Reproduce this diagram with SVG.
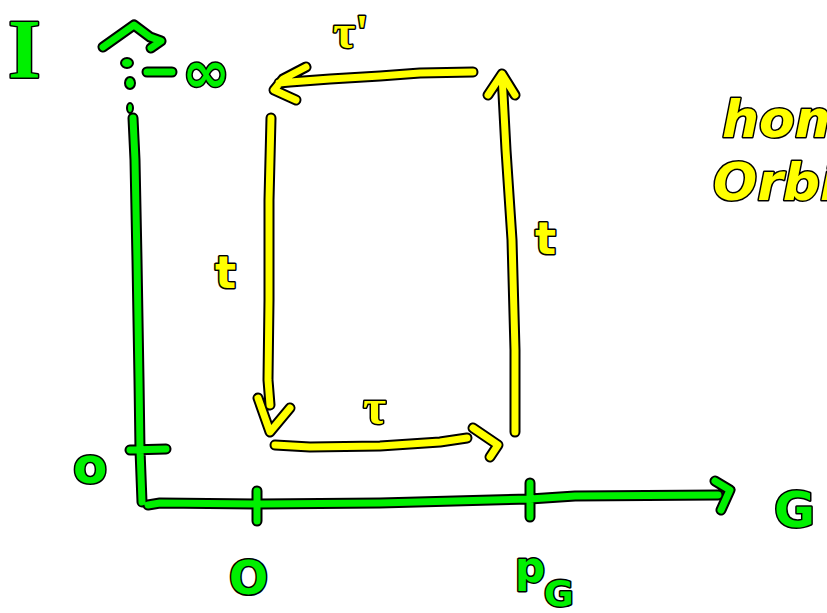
<svg xmlns="http://www.w3.org/2000/svg" xmlns:xlink="http://www.w3.org/1999/xlink" width="827" height="613" viewBox="0 0 827 613">
<style>
.o{fill:none;stroke:#000;stroke-width:11;stroke-linecap:round;stroke-linejoin:round}
.g{fill:none;stroke:#00f000;stroke-width:7;stroke-linecap:round;stroke-linejoin:round}
.y{fill:none;stroke:#ffff00;stroke-width:7;stroke-linecap:round;stroke-linejoin:round}
.tg{fill:#00f000;stroke:#000;stroke-width:3;stroke-linejoin:round;paint-order:stroke fill;font-family:"DejaVu Sans",sans-serif;font-weight:bold}
.ty{fill:#ffff00;stroke:#000;stroke-width:3;stroke-linejoin:round;paint-order:stroke fill;font-family:"DejaVu Sans",sans-serif;font-weight:bold}
.serif{font-family:"Liberation Serif",serif}
</style>
<defs>
<path id="gax" d="M133,118 L135,160 L137,260 L139,380 L140,450 L142,502 M148,505 L160,503 L260,504 L380,503 L530,499 L575,496 L718,495 M715,481 L730,490 L721,510 M130,450 L166,449 M257,491 L257,521 M530,483 L530,517 M103,47 L134,25 L150,37 L161,41 L151,48 M147,72 L172,72"/>
<path id="ytop" d="M473,72 L420,73 L380,76 L330,79 L290,82 L279,83 M306,67 L283,79 L274,90 L296,100"/>
<path id="yleft" d="M271,118 L269,200 L269,300 L268,380 L270,405 M258,398 L270,432 L290,408"/>
<path id="ybot" d="M275,445 L310,447 L380,446 L440,442 L467,438 M473,428 L498,445 L490,457"/>
<path id="yright" d="M515,432 L515,350 L512,240 L506,150 L502,75 M488,95 L502,74 L515,95"/>
</defs>
<g id="connectors">
<use xlink:href="#gax" class="o"/><use xlink:href="#gax" class="g"/>
<use xlink:href="#ytop" class="o"/><use xlink:href="#ytop" class="y"/>
<use xlink:href="#yleft" class="o"/><use xlink:href="#yleft" class="y"/>
<use xlink:href="#ybot" class="o"/><use xlink:href="#ybot" class="y"/>
<use xlink:href="#yright" class="o"/><use xlink:href="#yright" class="y"/>
<g>
<ellipse cx="127" cy="63" rx="6" ry="5" fill="#00f000" stroke="#000" stroke-width="2"/>
<ellipse cx="130" cy="83" rx="5" ry="6" fill="#00f000" stroke="#000" stroke-width="2"/>
<ellipse cx="130" cy="108" rx="3" ry="5" fill="#00f000" stroke="#000" stroke-width="2"/>
</g>
</g>
<g id="labels">
<text class="tg serif" x="8" y="78" font-size="84">I</text>
<text class="tg" x="182" y="92" font-size="58">∞</text>
<text class="ty serif" x="333" y="48" font-size="48">τ'</text>
<text class="ty" x="215" y="288" font-size="44">t</text>
<text class="ty" x="535" y="254" font-size="44">t</text>
<text class="ty serif" x="363" y="424" font-size="50">τ</text>
<text class="tg" x="73" y="483" font-size="50">o</text>
<text class="tg" x="229" y="594" font-size="46">O</text>
<text class="tg" x="515" y="582" font-size="42">p</text>
<text class="tg" x="544" y="606" font-size="36">G</text>
<text class="tg" x="774" y="527" font-size="50">G</text>
<text class="ty" x="722" y="137" font-size="52" font-style="italic">hom</text>
<text class="ty" x="713" y="200" font-size="52" font-style="italic">Orbi</text>
</g>
</svg>
